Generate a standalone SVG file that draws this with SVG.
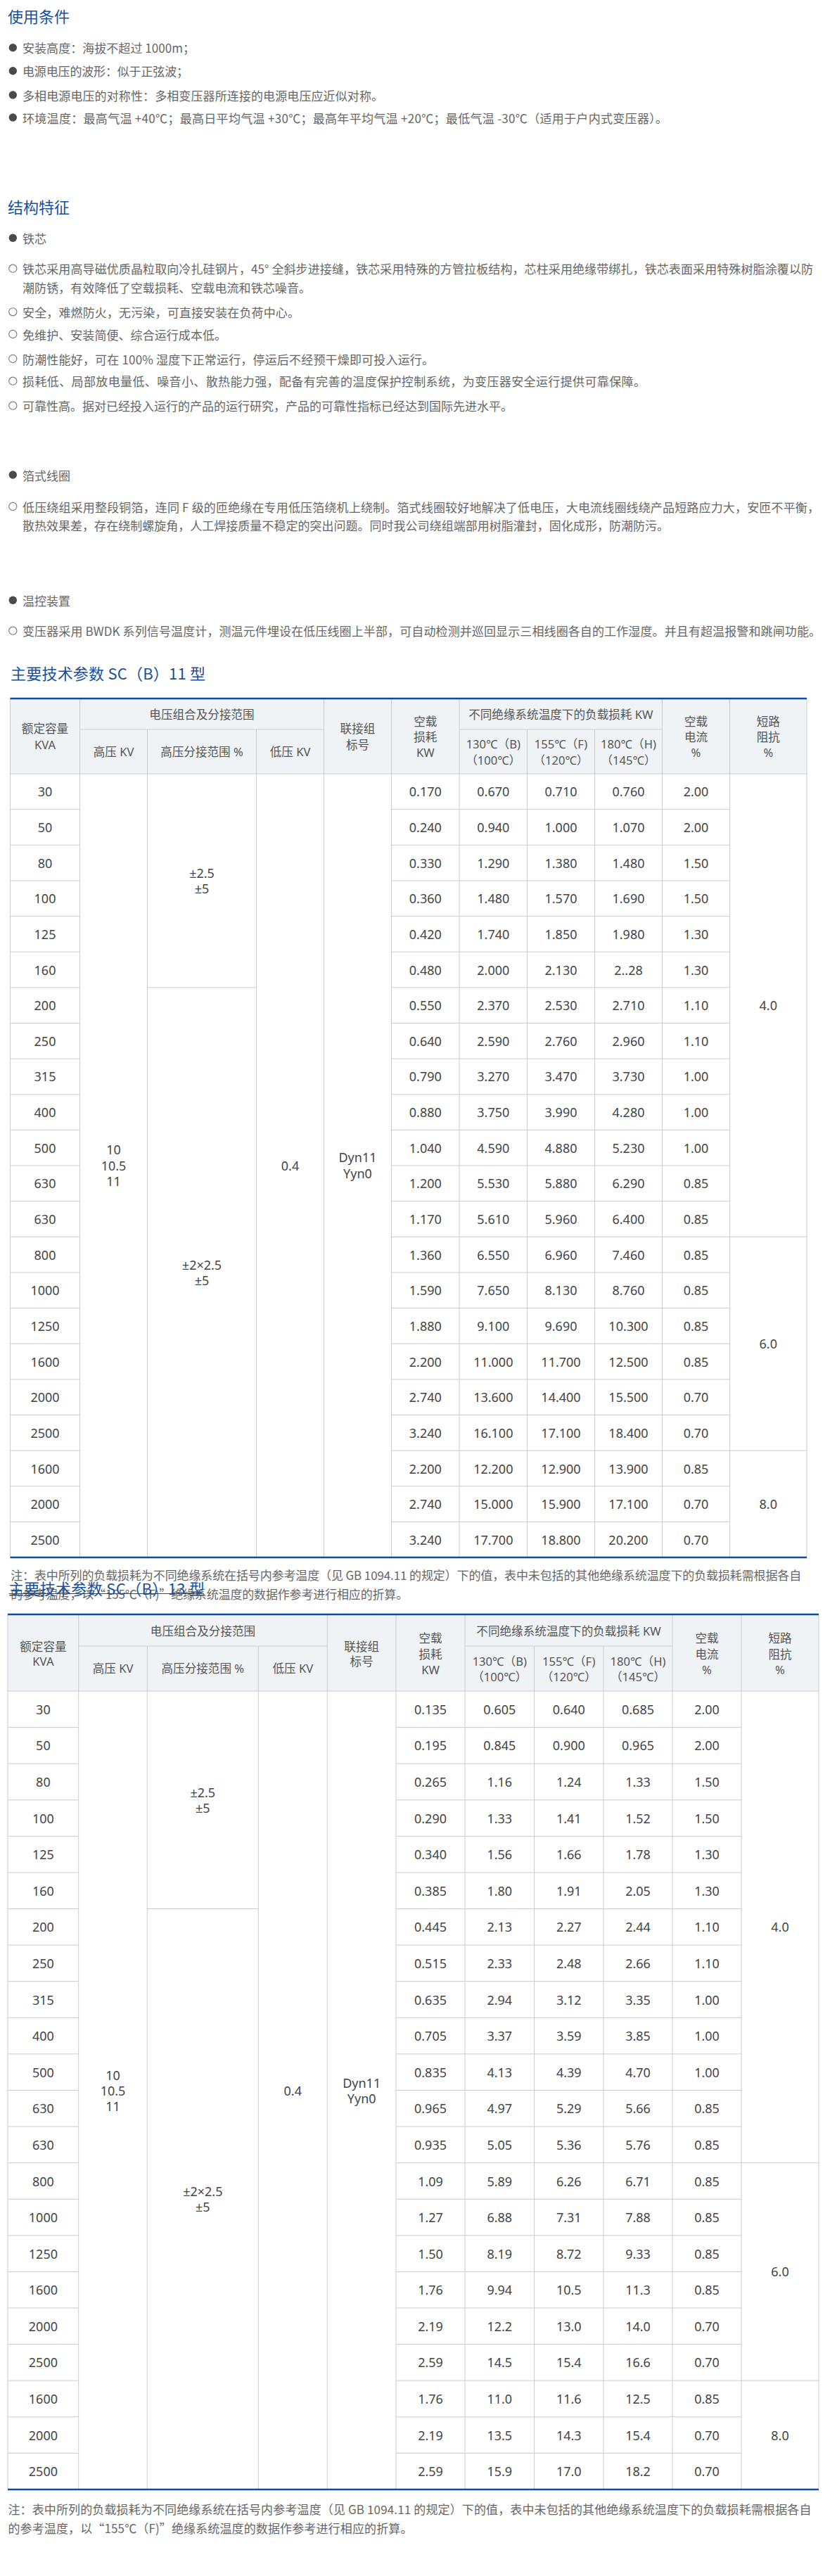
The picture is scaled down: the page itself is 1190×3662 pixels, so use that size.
<svg xmlns="http://www.w3.org/2000/svg" width="1190" height="3662" viewBox="0 0 1190 3662">
<style>
text{dominant-baseline:central}
.ttl{font-family:"Noto Sans CJK SC","Noto Sans",sans-serif;font-size:22px;fill:#1a4f9e}
.b{font-family:"Noto Sans CJK SC","Noto Sans",sans-serif;font-size:17px;fill:#666}
.n{font-family:"Noto Sans CJK SC","Noto Sans",sans-serif;font-size:17px;fill:#666}
.h{font-family:"Noto Sans","Noto Sans CJK SC",sans-serif;font-size:16.6px;fill:#555;text-anchor:middle}
.t{font-family:"Noto Sans","Noto Sans CJK SC",sans-serif;font-size:18px;fill:#444;text-anchor:middle}
.dot{fill:#4a4a4a}
.ring{fill:none;stroke:#777;stroke-width:1.1}
.grid{fill:none;stroke:#cccccc;stroke-width:1}
.blue{fill:none;stroke:#0d4c9e;stroke-width:2.6}
.hbg{fill:#eff3f6}
</style>

<g id="usage">
<text class="ttl" x="11" y="21.7" textLength="88">使用条件</text>
<circle class="dot" cx="18.3" cy="67.8" r="5.7"/>
<text class="b" x="32" y="67.8" textLength="245">安装高度：海拔不超过 1000m；</text>
<circle class="dot" cx="18.3" cy="100.7" r="5.7"/>
<text class="b" x="32" y="100.7" textLength="236">电源电压的波形：似于正弦波；</text>
<circle class="dot" cx="18.3" cy="135" r="5.7"/>
<text class="b" x="32" y="135" textLength="513">多相电源电压的对称性：多相变压器所连接的电源电压应近似对称。</text>
<circle class="dot" cx="18.3" cy="167" r="5.7"/>
<text class="b" x="32" y="167" textLength="917">环境温度：最高气温 +40℃；最高日平均气温 +30℃；最高年平均气温 +20℃；最低气温 -30℃（适用于户内式变压器）。</text>
</g>

<g id="structure">
<text class="ttl" x="11" y="292.5" textLength="88">结构特征</text>
<circle class="dot" cx="18.3" cy="338.3" r="5.7"/>
<text class="b" x="32" y="338.3" textLength="34">铁芯</text>
<circle class="ring" cx="18.3" cy="381.7" r="5.6"/>
<text class="b" x="32" y="381.7" textLength="1124">铁芯采用高导磁优质晶粒取向冷扎硅钢片，45° 全斜步进接缝，铁芯采用特殊的方管拉板结构，芯柱采用绝缘带绑扎，铁芯表面采用特殊树脂涂覆以防</text>
<text class="b" x="32" y="408.3" textLength="410">潮防锈，有效降低了空载损耗、空载电流和铁芯噪音。</text>
<circle class="ring" cx="18.3" cy="443.3" r="5.6"/>
<text class="b" x="32" y="443.3" textLength="394">安全，难燃防火，无污染，可直接安装在负荷中心。</text>
<circle class="ring" cx="18.3" cy="475" r="5.6"/>
<text class="b" x="32" y="475" textLength="290">免维护、安装简便、综合运行成本低。</text>
<circle class="ring" cx="18.3" cy="510" r="5.6"/>
<text class="b" x="32" y="510" textLength="585">防潮性能好，可在 100% 湿度下正常运行，停运后不经预干燥即可投入运行。</text>
<circle class="ring" cx="18.3" cy="541.7" r="5.6"/>
<text class="b" x="32" y="541.7" textLength="886">损耗低、局部放电量低、噪音小、散热能力强，配备有完善的温度保护控制系统，为变压器安全运行提供可靠保障。</text>
<circle class="ring" cx="18.3" cy="576.7" r="5.6"/>
<text class="b" x="32" y="576.7" textLength="697">可靠性高。据对已经投入运行的产品的运行研究，产品的可靠性指标已经达到国际先进水平。</text>
<circle class="dot" cx="18.3" cy="675" r="5.7"/>
<text class="b" x="32" y="675" textLength="68">箔式线圈</text>
<circle class="ring" cx="18.3" cy="720" r="5.6"/>
<text class="b" x="32" y="720" textLength="1133">低压绕组采用整段铜箔，连同 F 级的匝绝缘在专用低压箔绕机上绕制。箔式线圈较好地解决了低电压，大电流线圈线绕产品短路应力大，安匝不平衡，</text>
<text class="b" x="32" y="746.7" textLength="919">散热效果差，存在绕制螺旋角，人工焊接质量不稳定的突出问题。同时我公司绕组端部用树脂灌封，固化成形，防潮防污。</text>
<circle class="dot" cx="18.3" cy="853.3" r="5.7"/>
<text class="b" x="32" y="853.3" textLength="68">温控装置</text>
<circle class="ring" cx="18.3" cy="896.7" r="5.6"/>
<text class="b" x="32" y="896.7" textLength="1135">变压器采用 BWDK 系列信号温度计，测温元件埋设在低压线圈上半部，可自动检测并巡回显示三相线圈各自的工作湿度。并且有超温报警和跳闸功能。</text>
</g>

<g id="table-sc11">
<text class="ttl" x="15" y="956" textLength="277">主要技术参数 SC（B）11 型</text>
<rect class="hbg" x="14.5" y="993" width="1132.5" height="107"/>
<path class="grid" d="M14.5 993V2214M1147 993V2214M113.5 993V2214M460.5 993V2214M556.5 993V2214M653 993V2214M941.5 993V2214M1037.5 993V2214M209.5 1037V2214M364.5 1037V2214M749.5 1037V2214M845.5 1037V2214M113.5 1037H460.5M653 1037H941.5M14.5 1100H1147
M14.5 1150.6H113.5M556.5 1150.6H1037.5M14.5 1201.3H113.5M556.5 1201.3H1037.5M14.5 1251.9H113.5M556.5 1251.9H1037.5M14.5 1302.6H113.5M556.5 1302.6H1037.5M14.5 1353.2H113.5M556.5 1353.2H1037.5M14.5 1403.8H113.5M556.5 1403.8H1037.5M14.5 1454.5H113.5M556.5 1454.5H1037.5M14.5 1505.1H113.5M556.5 1505.1H1037.5M14.5 1555.8H113.5M556.5 1555.8H1037.5M14.5 1606.4H113.5M556.5 1606.4H1037.5M14.5 1657H113.5M556.5 1657H1037.5M14.5 1707.7H113.5M556.5 1707.7H1037.5M14.5 1758.3H113.5M556.5 1758.3H1037.5M14.5 1809H113.5M556.5 1809H1037.5M14.5 1859.6H113.5M556.5 1859.6H1037.5M14.5 1910.2H113.5M556.5 1910.2H1037.5M14.5 1960.9H113.5M556.5 1960.9H1037.5M14.5 2011.5H113.5M556.5 2011.5H1037.5M14.5 2062.2H113.5M556.5 2062.2H1037.5M14.5 2112.8H113.5M556.5 2112.8H1037.5M14.5 2163.4H113.5M556.5 2163.4H1037.5
M209.5 1403.8H364.5M1037.5 1758.3H1147M1037.5 2062.2H1147"/>
<path class="blue" d="M14.5 993H1147M14.5 2214H1147"/>
<text class="h" x="64" y="1035">额定容量</text>
<text class="h" x="64" y="1058">KVA</text>
<text class="h" x="287" y="1015">电压组合及分接范围</text>
<text class="h" x="161.5" y="1068">高压 KV</text>
<text class="h" x="287" y="1068">高压分接范围 %</text>
<text class="h" x="412.5" y="1068">低压 KV</text>
<text class="h" x="508.5" y="1035">联接组</text>
<text class="h" x="508.5" y="1058">标号</text>
<text class="h" x="604.8" y="1025">空载</text>
<text class="h" x="604.8" y="1047">损耗</text>
<text class="h" x="604.8" y="1069">KW</text>
<text class="h" x="797.3" y="1015">不同绝缘系统温度下的负载损耗 KW</text>
<text class="h" x="701.3" y="1057">130℃（B)</text>
<text class="h" x="701.3" y="1080">（100℃）</text>
<text class="h" x="797.5" y="1057">155℃（F)</text>
<text class="h" x="797.5" y="1080">（120℃）</text>
<text class="h" x="893.5" y="1057">180℃（H)</text>
<text class="h" x="893.5" y="1080">（145℃）</text>
<text class="h" x="989.5" y="1025">空载</text>
<text class="h" x="989.5" y="1047">电流</text>
<text class="h" x="989.5" y="1069">%</text>
<text class="h" x="1092.3" y="1025">短路</text>
<text class="h" x="1092.3" y="1047">阻抗</text>
<text class="h" x="1092.3" y="1069">%</text>
<g class="t">
<text class="t" y="1125.3"><tspan x="64">30</tspan><tspan x="604.8">0.170</tspan><tspan x="701.3">0.670</tspan><tspan x="797.5">0.710</tspan><tspan x="893.5">0.760</tspan><tspan x="989.5">2.00</tspan></text>
<text class="t" y="1176"><tspan x="64">50</tspan><tspan x="604.8">0.240</tspan><tspan x="701.3">0.940</tspan><tspan x="797.5">1.000</tspan><tspan x="893.5">1.070</tspan><tspan x="989.5">2.00</tspan></text>
<text class="t" y="1226.6"><tspan x="64">80</tspan><tspan x="604.8">0.330</tspan><tspan x="701.3">1.290</tspan><tspan x="797.5">1.380</tspan><tspan x="893.5">1.480</tspan><tspan x="989.5">1.50</tspan></text>
<text class="t" y="1277.2"><tspan x="64">100</tspan><tspan x="604.8">0.360</tspan><tspan x="701.3">1.480</tspan><tspan x="797.5">1.570</tspan><tspan x="893.5">1.690</tspan><tspan x="989.5">1.50</tspan></text>
<text class="t" y="1327.9"><tspan x="64">125</tspan><tspan x="604.8">0.420</tspan><tspan x="701.3">1.740</tspan><tspan x="797.5">1.850</tspan><tspan x="893.5">1.980</tspan><tspan x="989.5">1.30</tspan></text>
<text class="t" y="1378.5"><tspan x="64">160</tspan><tspan x="604.8">0.480</tspan><tspan x="701.3">2.000</tspan><tspan x="797.5">2.130</tspan><tspan x="893.5">2..28</tspan><tspan x="989.5">1.30</tspan></text>
<text class="t" y="1429.2"><tspan x="64">200</tspan><tspan x="604.8">0.550</tspan><tspan x="701.3">2.370</tspan><tspan x="797.5">2.530</tspan><tspan x="893.5">2.710</tspan><tspan x="989.5">1.10</tspan></text>
<text class="t" y="1479.8"><tspan x="64">250</tspan><tspan x="604.8">0.640</tspan><tspan x="701.3">2.590</tspan><tspan x="797.5">2.760</tspan><tspan x="893.5">2.960</tspan><tspan x="989.5">1.10</tspan></text>
<text class="t" y="1530.4"><tspan x="64">315</tspan><tspan x="604.8">0.790</tspan><tspan x="701.3">3.270</tspan><tspan x="797.5">3.470</tspan><tspan x="893.5">3.730</tspan><tspan x="989.5">1.00</tspan></text>
<text class="t" y="1581.1"><tspan x="64">400</tspan><tspan x="604.8">0.880</tspan><tspan x="701.3">3.750</tspan><tspan x="797.5">3.990</tspan><tspan x="893.5">4.280</tspan><tspan x="989.5">1.00</tspan></text>
<text class="t" y="1631.7"><tspan x="64">500</tspan><tspan x="604.8">1.040</tspan><tspan x="701.3">4.590</tspan><tspan x="797.5">4.880</tspan><tspan x="893.5">5.230</tspan><tspan x="989.5">1.00</tspan></text>
<text class="t" y="1682.4"><tspan x="64">630</tspan><tspan x="604.8">1.200</tspan><tspan x="701.3">5.530</tspan><tspan x="797.5">5.880</tspan><tspan x="893.5">6.290</tspan><tspan x="989.5">0.85</tspan></text>
<text class="t" y="1733"><tspan x="64">630</tspan><tspan x="604.8">1.170</tspan><tspan x="701.3">5.610</tspan><tspan x="797.5">5.960</tspan><tspan x="893.5">6.400</tspan><tspan x="989.5">0.85</tspan></text>
<text class="t" y="1783.6"><tspan x="64">800</tspan><tspan x="604.8">1.360</tspan><tspan x="701.3">6.550</tspan><tspan x="797.5">6.960</tspan><tspan x="893.5">7.460</tspan><tspan x="989.5">0.85</tspan></text>
<text class="t" y="1834.3"><tspan x="64">1000</tspan><tspan x="604.8">1.590</tspan><tspan x="701.3">7.650</tspan><tspan x="797.5">8.130</tspan><tspan x="893.5">8.760</tspan><tspan x="989.5">0.85</tspan></text>
<text class="t" y="1884.9"><tspan x="64">1250</tspan><tspan x="604.8">1.880</tspan><tspan x="701.3">9.100</tspan><tspan x="797.5">9.690</tspan><tspan x="893.5">10.300</tspan><tspan x="989.5">0.85</tspan></text>
<text class="t" y="1935.6"><tspan x="64">1600</tspan><tspan x="604.8">2.200</tspan><tspan x="701.3">11.000</tspan><tspan x="797.5">11.700</tspan><tspan x="893.5">12.500</tspan><tspan x="989.5">0.85</tspan></text>
<text class="t" y="1986.2"><tspan x="64">2000</tspan><tspan x="604.8">2.740</tspan><tspan x="701.3">13.600</tspan><tspan x="797.5">14.400</tspan><tspan x="893.5">15.500</tspan><tspan x="989.5">0.70</tspan></text>
<text class="t" y="2036.8"><tspan x="64">2500</tspan><tspan x="604.8">3.240</tspan><tspan x="701.3">16.100</tspan><tspan x="797.5">17.100</tspan><tspan x="893.5">18.400</tspan><tspan x="989.5">0.70</tspan></text>
<text class="t" y="2087.5"><tspan x="64">1600</tspan><tspan x="604.8">2.200</tspan><tspan x="701.3">12.200</tspan><tspan x="797.5">12.900</tspan><tspan x="893.5">13.900</tspan><tspan x="989.5">0.85</tspan></text>
<text class="t" y="2138.1"><tspan x="64">2000</tspan><tspan x="604.8">2.740</tspan><tspan x="701.3">15.000</tspan><tspan x="797.5">15.900</tspan><tspan x="893.5">17.100</tspan><tspan x="989.5">0.70</tspan></text>
<text class="t" y="2188.8"><tspan x="64">2500</tspan><tspan x="604.8">3.240</tspan><tspan x="701.3">17.700</tspan><tspan x="797.5">18.800</tspan><tspan x="893.5">20.200</tspan><tspan x="989.5">0.70</tspan></text>
</g>
<text class="t" x="161.5" y="1634.4">10</text>
<text class="t" x="161.5" y="1656.7">10.5</text>
<text class="t" x="161.5" y="1679">11</text>
<text class="t" x="287" y="1241">±2.5</text>
<text class="t" x="287" y="1263">±5</text>
<text class="t" x="287" y="1798">±2×2.5</text>
<text class="t" x="287" y="1820">±5</text>
<text class="t" x="412.5" y="1657">0.4</text>
<text class="t" x="508.5" y="1645">Dyn11</text>
<text class="t" x="508.5" y="1668">Yyn0</text>
<text class="t" x="1092.3" y="1429.2">4.0</text>
<text class="t" x="1092.3" y="1910.2">6.0</text>
<text class="t" x="1092.3" y="2138.1">8.0</text>
<text class="n" x="15.2" y="2238" textLength="1124">注：表中所列的负载损耗为不同绝缘系统在括号内参考温度（见 GB 1094.11 的规定）下的值，表中未包括的其他绝缘系统温度下的负载损耗需根据各自</text>
<text class="n" x="15.2" y="2265" textLength="565">的参考温度，以“155℃（F)”绝缘系统温度的数据作参考进行相应的折算。</text>
</g>

<g id="table-sc13">
<text class="ttl" x="12" y="2257" textLength="279">主要技术参数 SC（B）13 型</text>
<path d="M12.7 2265.5H290" stroke="#1a4f9e" stroke-width="1.2" fill="none"/>
<rect class="hbg" x="11" y="2295" width="1153" height="109"/>
<path class="grid" d="M11 2295V3539M1164 2295V3539M111.7 2295V3539M465.3 2295V3539M563 2295V3539M661 2295V3539M956 2295V3539M1054 2295V3539M209.3 2340V3539M367.3 2340V3539M759.5 2340V3539M858 2340V3539M111.7 2340H465.3M661 2340H956M11 2404H1164
M11 2455.6H111.7M563 2455.6H1054M11 2507.2H111.7M563 2507.2H1054M11 2558.8H111.7M563 2558.8H1054M11 2610.4H111.7M563 2610.4H1054M11 2662H111.7M563 2662H1054M11 2713.5H111.7M563 2713.5H1054M11 2765.1H111.7M563 2765.1H1054M11 2816.7H111.7M563 2816.7H1054M11 2868.3H111.7M563 2868.3H1054M11 2919.9H111.7M563 2919.9H1054M11 2971.5H111.7M563 2971.5H1054M11 3023.1H111.7M563 3023.1H1054M11 3074.7H111.7M563 3074.7H1054M11 3126.3H111.7M563 3126.3H1054M11 3177.9H111.7M563 3177.9H1054M11 3229.4H111.7M563 3229.4H1054M11 3281H111.7M563 3281H1054M11 3332.6H111.7M563 3332.6H1054M11 3384.2H111.7M563 3384.2H1054M11 3435.8H111.7M563 3435.8H1054M11 3487.4H111.7M563 3487.4H1054
M209.3 2713.5H367.3M1054 3074.7H1164M1054 3384.2H1164"/>
<path class="blue" d="M11 2295H1164M11 3539H1164"/>
<text class="h" x="61.4" y="2340">额定容量</text>
<text class="h" x="61.4" y="2361.7">KVA</text>
<text class="h" x="288.5" y="2318">电压组合及分接范围</text>
<text class="h" x="160.5" y="2371.7">高压 KV</text>
<text class="h" x="288.3" y="2371.7">高压分接范围 %</text>
<text class="h" x="416.3" y="2371.7">低压 KV</text>
<text class="h" x="514.2" y="2340">联接组</text>
<text class="h" x="514.2" y="2361.7">标号</text>
<text class="h" x="612" y="2328">空载</text>
<text class="h" x="612" y="2351.7">损耗</text>
<text class="h" x="612" y="2373.3">KW</text>
<text class="h" x="808.5" y="2318">不同绝缘系统温度下的负载损耗 KW</text>
<text class="h" x="710.3" y="2361.7">130℃（B)</text>
<text class="h" x="710.3" y="2383.3">（100℃）</text>
<text class="h" x="808.8" y="2361.7">155℃（F)</text>
<text class="h" x="808.8" y="2383.3">（120℃）</text>
<text class="h" x="907" y="2361.7">180℃（H)</text>
<text class="h" x="907" y="2383.3">（145℃）</text>
<text class="h" x="1005" y="2328">空载</text>
<text class="h" x="1005" y="2351.7">电流</text>
<text class="h" x="1005" y="2373.3">%</text>
<text class="h" x="1109" y="2328">短路</text>
<text class="h" x="1109" y="2351.7">阻抗</text>
<text class="h" x="1109" y="2373.3">%</text>
<g>
<text class="t" y="2429.8"><tspan x="61.4">30</tspan><tspan x="612">0.135</tspan><tspan x="710.3">0.605</tspan><tspan x="808.8">0.640</tspan><tspan x="907">0.685</tspan><tspan x="1005">2.00</tspan></text>
<text class="t" y="2481.4"><tspan x="61.4">50</tspan><tspan x="612">0.195</tspan><tspan x="710.3">0.845</tspan><tspan x="808.8">0.900</tspan><tspan x="907">0.965</tspan><tspan x="1005">2.00</tspan></text>
<text class="t" y="2533"><tspan x="61.4">80</tspan><tspan x="612">0.265</tspan><tspan x="710.3">1.16</tspan><tspan x="808.8">1.24</tspan><tspan x="907">1.33</tspan><tspan x="1005">1.50</tspan></text>
<text class="t" y="2584.6"><tspan x="61.4">100</tspan><tspan x="612">0.290</tspan><tspan x="710.3">1.33</tspan><tspan x="808.8">1.41</tspan><tspan x="907">1.52</tspan><tspan x="1005">1.50</tspan></text>
<text class="t" y="2636.2"><tspan x="61.4">125</tspan><tspan x="612">0.340</tspan><tspan x="710.3">1.56</tspan><tspan x="808.8">1.66</tspan><tspan x="907">1.78</tspan><tspan x="1005">1.30</tspan></text>
<text class="t" y="2687.7"><tspan x="61.4">160</tspan><tspan x="612">0.385</tspan><tspan x="710.3">1.80</tspan><tspan x="808.8">1.91</tspan><tspan x="907">2.05</tspan><tspan x="1005">1.30</tspan></text>
<text class="t" y="2739.3"><tspan x="61.4">200</tspan><tspan x="612">0.445</tspan><tspan x="710.3">2.13</tspan><tspan x="808.8">2.27</tspan><tspan x="907">2.44</tspan><tspan x="1005">1.10</tspan></text>
<text class="t" y="2790.9"><tspan x="61.4">250</tspan><tspan x="612">0.515</tspan><tspan x="710.3">2.33</tspan><tspan x="808.8">2.48</tspan><tspan x="907">2.66</tspan><tspan x="1005">1.10</tspan></text>
<text class="t" y="2842.5"><tspan x="61.4">315</tspan><tspan x="612">0.635</tspan><tspan x="710.3">2.94</tspan><tspan x="808.8">3.12</tspan><tspan x="907">3.35</tspan><tspan x="1005">1.00</tspan></text>
<text class="t" y="2894.1"><tspan x="61.4">400</tspan><tspan x="612">0.705</tspan><tspan x="710.3">3.37</tspan><tspan x="808.8">3.59</tspan><tspan x="907">3.85</tspan><tspan x="1005">1.00</tspan></text>
<text class="t" y="2945.7"><tspan x="61.4">500</tspan><tspan x="612">0.835</tspan><tspan x="710.3">4.13</tspan><tspan x="808.8">4.39</tspan><tspan x="907">4.70</tspan><tspan x="1005">1.00</tspan></text>
<text class="t" y="2997.3"><tspan x="61.4">630</tspan><tspan x="612">0.965</tspan><tspan x="710.3">4.97</tspan><tspan x="808.8">5.29</tspan><tspan x="907">5.66</tspan><tspan x="1005">0.85</tspan></text>
<text class="t" y="3048.9"><tspan x="61.4">630</tspan><tspan x="612">0.935</tspan><tspan x="710.3">5.05</tspan><tspan x="808.8">5.36</tspan><tspan x="907">5.76</tspan><tspan x="1005">0.85</tspan></text>
<text class="t" y="3100.5"><tspan x="61.4">800</tspan><tspan x="612">1.09</tspan><tspan x="710.3">5.89</tspan><tspan x="808.8">6.26</tspan><tspan x="907">6.71</tspan><tspan x="1005">0.85</tspan></text>
<text class="t" y="3152.1"><tspan x="61.4">1000</tspan><tspan x="612">1.27</tspan><tspan x="710.3">6.88</tspan><tspan x="808.8">7.31</tspan><tspan x="907">7.88</tspan><tspan x="1005">0.85</tspan></text>
<text class="t" y="3203.6"><tspan x="61.4">1250</tspan><tspan x="612">1.50</tspan><tspan x="710.3">8.19</tspan><tspan x="808.8">8.72</tspan><tspan x="907">9.33</tspan><tspan x="1005">0.85</tspan></text>
<text class="t" y="3255.2"><tspan x="61.4">1600</tspan><tspan x="612">1.76</tspan><tspan x="710.3">9.94</tspan><tspan x="808.8">10.5</tspan><tspan x="907">11.3</tspan><tspan x="1005">0.85</tspan></text>
<text class="t" y="3306.8"><tspan x="61.4">2000</tspan><tspan x="612">2.19</tspan><tspan x="710.3">12.2</tspan><tspan x="808.8">13.0</tspan><tspan x="907">14.0</tspan><tspan x="1005">0.70</tspan></text>
<text class="t" y="3358.4"><tspan x="61.4">2500</tspan><tspan x="612">2.59</tspan><tspan x="710.3">14.5</tspan><tspan x="808.8">15.4</tspan><tspan x="907">16.6</tspan><tspan x="1005">0.70</tspan></text>
<text class="t" y="3410"><tspan x="61.4">1600</tspan><tspan x="612">1.76</tspan><tspan x="710.3">11.0</tspan><tspan x="808.8">11.6</tspan><tspan x="907">12.5</tspan><tspan x="1005">0.85</tspan></text>
<text class="t" y="3461.6"><tspan x="61.4">2000</tspan><tspan x="612">2.19</tspan><tspan x="710.3">13.5</tspan><tspan x="808.8">14.3</tspan><tspan x="907">15.4</tspan><tspan x="1005">0.70</tspan></text>
<text class="t" y="3513.2"><tspan x="61.4">2500</tspan><tspan x="612">2.59</tspan><tspan x="710.3">15.9</tspan><tspan x="808.8">17.0</tspan><tspan x="907">18.2</tspan><tspan x="1005">0.70</tspan></text>
</g>
<text class="t" x="160.5" y="2949.5">10</text>
<text class="t" x="160.5" y="2971.5">10.5</text>
<text class="t" x="160.5" y="2994">11</text>
<text class="t" x="288.3" y="2548">±2.5</text>
<text class="t" x="288.3" y="2570">±5</text>
<text class="t" x="288.3" y="3115">±2×2.5</text>
<text class="t" x="288.3" y="3137">±5</text>
<text class="t" x="416.3" y="2971.5">0.4</text>
<text class="t" x="514.2" y="2961">Dyn11</text>
<text class="t" x="514.2" y="2983">Yyn0</text>
<text class="t" x="1109" y="2739.3">4.0</text>
<text class="t" x="1109" y="3229.4">6.0</text>
<text class="t" x="1109" y="3461.6">8.0</text>
<text class="n" x="11.4" y="3566" textLength="1142">注：表中所列的负载损耗为不同绝缘系统在括号内参考温度（见 GB 1094.11 的规定）下的值，表中未包括的其他绝缘系统温度下的负载损耗需根据各自</text>
<text class="n" x="11.4" y="3593" textLength="575">的参考温度，以“155℃（F)”绝缘系统温度的数据作参考进行相应的折算。</text>
</g>
</svg>
